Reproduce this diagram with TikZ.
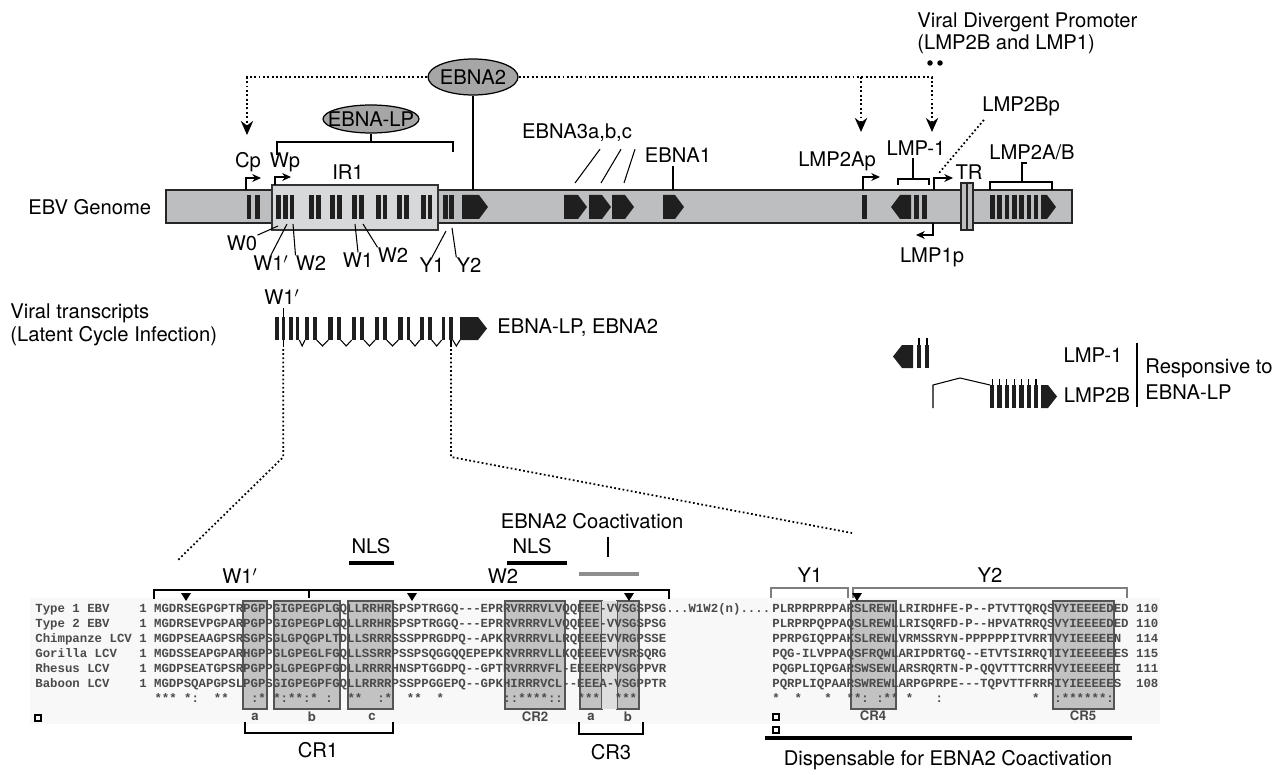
\documentclass[tikz,border=0pt]{standalone}
\usepackage{fontspec}
\setmainfont{TeX Gyre Heros}
\setmonofont{Liberation Mono}
\usetikzlibrary{positioning,arrows.meta,shapes.geometric}
\definecolor{genomegrey}{HTML}{BDBEC0}
\definecolor{irgrey}{HTML}{D7D8D9}
\definecolor{protgrey}{HTML}{A6A6A6}
\definecolor{seqgrey}{HTML}{4A4A4A}
\definecolor{boxgrey}{HTML}{C2C2C2}
\definecolor{boxedge}{HTML}{555555}
\definecolor{palegrey}{HTML}{DEDEDE}
\definecolor{scangrey}{HTML}{F8F8F8}
\definecolor{bracketgrey}{HTML}{7E7E7E}
\definecolor{coactgrey}{HTML}{8E8E8E}
\tikzset{
  lbl/.style={font=\fontsize{11.5}{13}\selectfont, inner sep=0pt},
  prot/.style={ellipse, draw=black, line width=0.7pt, fill=protgrey, inner sep=0pt},
  genome/.style={draw=black!85, line width=0.8pt, fill=genomegrey},
  irbox/.style={draw=black!80, line width=0.7pt, fill=irgrey},
  exon/.style={fill=black!88},
  link/.style={line width=0.6pt},
  prom/.style={line width=0.6pt, -{Stealth[length=5pt,width=4.5pt]}},
  act/.style={line width=1.2pt, dash pattern=on 1.1pt off 1.4pt, -{Stealth[length=8pt,width=7pt]}},
  zoomline/.style={line width=1pt, dash pattern=on 1pt off 1.4pt},
  seq/.style={font=\fontsize{7.04}{8}\selectfont\ttfamily\bfseries, text=seqgrey,
              inner sep=0pt, anchor=west, text height=4.6pt, text depth=1.2pt},
  crbox/.style={draw=boxedge, fill=boxgrey, line width=0.8pt},
  crlbl/.style={font=\fontsize{7.5}{8}\selectfont\bfseries, text=seqgrey, inner sep=0pt},
  wbrace/.style={line width=0.8pt},
  crbrace/.style={line width=1.4pt},
}
% exon arrows: from x=#1 to tip x=#2, between y=#3 and y=#4
\newcommand{\pentR}[4]{\fill[exon] (#1,#3) -- (#2-9,#3) -- (#2,{(#3+#4)/2}) -- (#2-9,#4) -- (#1,#4) -- cycle;}
\newcommand{\pentL}[4]{\fill[exon] (#1,{(#3+#4)/2}) -- (#1+9,#3) -- (#2,#3) -- (#2,#4) -- (#1+9,#4) -- cycle;}
\newcommand{\downtri}[2]{\fill (#1-5,#2) -- (#1+5,#2) -- (#1,#2+8) -- cycle;}

\begin{document}
\begin{tikzpicture}[x=0.2mm, y=-0.2mm]
  \useasboundingbox (0,0) rectangle (1288,775);

  % ---- genome map ----
  \node[lbl, anchor=west] (genome) at (28,207) {EBV Genome};
  \draw[genome] (166,190) rectangle (1072,223);
  \draw[irbox] (272,185) rectangle (438,230);
  \foreach \x in {246.5,255,276,283,289.5,309,316,330,337,352,359,376,382.5,397,404,421,427.5,443,449}
    {\fill[exon] (\x,195) rectangle ++(4.5,24);}
  \pentR{462}{488}{195}{219}
  \foreach \a/\b in {564/587,589/611,612/634,663/684}
    {\pentR{\a}{\b}{195}{219}}
  \fill[exon] (862,195) rectangle (867,219);
  \pentL{891}{911}{195}{219}
  \foreach \x in {914,922}
    {\fill[exon] (\x,195) rectangle ++(5,24);}
  \draw[genome, line width=0.6pt] (961,183) rectangle (967,230);
  \draw[genome, line width=0.6pt] (967,183) rectangle (973,230);
  \foreach \k in {0,...,6}
    {\fill[exon] ({990+7.3*\k},195) rectangle ++(4.6,24);}
  \pentR{1041}{1056}{195}{219}

  % promoters
  \draw[prom] (246,190) |- (261,178);
  \draw[prom] (275,185) |- (291,177);
  \draw[prom] (863,190) |- (880,177);
  \draw[prom] (934,190) |- (953,178);
  \draw[prom] (933,223) |- (916,235);

  \node[lbl] (cp) at (248,162) {Cp};
  \node[lbl] (wp) at (285,162) {Wp};
  \node[lbl] (ir1) at (348,172) {IR1};
  \node[lbl] (w0) at (242,243) {W0};
  \node[lbl] (w1p) at (271,263) {W1$'$};
  \node[lbl] (w2a) at (311,263) {W2};
  \node[lbl] (w1) at (358,260) {W1};
  \node[lbl] (w2b) at (393,255) {W2};
  \node[lbl] (y1) at (432,265) {Y1};
  \node[lbl] (y2) at (469,265) {Y2};
  \draw[link] (w0.north east) -- (278,226);
  \draw[link] (w1p.north) -- (287,224);
  \draw[link] (w2a.north west) -- (293,224);
  \draw[link] (w1.north) -- (355,224);
  \draw[link] (w2b.north west) -- (363,224);
  \draw[link] (y1.north) -- (446,231);
  \draw[link] (y2.north west) -- (452,228);

  \node[lbl] (ebna3) at (577,133) {EBNA3a,b,c};
  \coordinate (e3a) at (575,183);
  \coordinate (e3b) at (601,183);
  \coordinate (e3c) at (624,183);
  \draw[link] ([shift={(23,7)}]ebna3.south) -- (e3a);
  \draw[link] ([shift={(44,7)}]ebna3.south) -- (e3b);
  \draw[link] ([shift={(58,7)}]ebna3.south) -- (e3c);
  \node[lbl] (ebna1) at (678,155) {EBNA1};
  \draw[link] (673,190) -- (673,166);
  \node[lbl] (lmp2ap) at (837,161) {LMP2Ap};
  \node[lbl] (lmp1) at (916,148) {LMP-1};
  \draw[link] (898,185) -- (898,179) -- (929,179) -- (929,185);
  \draw[link] (913,179) -- (913,158);
  \node[lbl] (lmp2bp) at (1021,106) {LMP2Bp};
  \coordinate (lmp2bptip) at (939,173);
  \draw[zoomline] ([shift={(2,4)}]lmp2bp.south west) -- (lmp2bptip);
  \node[lbl] (tr) at (969,172) {TR};
  \node[lbl] (lmp2ab) at (1032,152) {LMP2A/B};
  \draw[link] (990,190) -- (990,182) -- (1052,182) -- (1052,190);
  \draw[link] (1022,182) -- (1022,163) -- (1027,163);
  \node[lbl] (lmp1p) at (932,257) {LMP1p};

  % ---- transactivators ----
  \node[prot, minimum width=18mm, minimum height=7.2mm] (ebna2) at (473,77) {};
  \node[lbl] (ebna2txt) at (ebna2) {EBNA2};
  \node[prot, minimum width=19.2mm, minimum height=5.6mm] (ebnalp) at (371,119) {};
  \node[lbl] (ebnalptxt) at (ebnalp) {EBNA-LP};
  \coordinate (lpbr) at (368,142);
  \draw[link] (277,155) -- (277,142) -- (453,142) -- (453,152);
  \draw[link] (ebnalp.south) -- (ebnalp.south |- lpbr);
  \draw[link] (ebna2.south) -- (ebna2.south |- 0,190);

  \coordinate (cpin) at (247,135);
  \coordinate (fork) at (861,77);
  \coordinate (lp2ain) at (861,132);
  \coordinate (lmp1in) at (932,132);
  \draw[act] (ebna2.west) -| (cpin);
  \draw[act] (ebna2.east) -| (lmp1in);
  \draw[act] (fork) -- (lp2ain);

  \node[lbl, anchor=west] (vdp) at (917,22) {Viral Divergent Promoter};
  \node[lbl, anchor=west] (vdp2) at (917,44) {(LMP2B and LMP1)};
  \fill (930,63) circle[radius=0.55mm] (940,63) circle[radius=0.55mm];

  % ---- transcripts ----
  \node[lbl, anchor=west] (vt) at (10,313) {Viral transcripts};
  \node[lbl, anchor=west] (lci) at (10,336) {(Latent Cycle Infection)};
  \foreach \x/\w in {275/4.3,281.7/3.3,289.3/3.4,296/3.3,305/4.3,313.3/3.4,328.3/4.3,337.3/3.4,351.7/4.3,360/4,375/4.3,383.3/3.4,398.3/4.3,406.7/3.3,420/4,428.3/3.4,441.7/3.6,449.3/3.4}
    {\fill[exon] (\x,317) rectangle ++(\w,23);}
  \foreach \a/\b in {299.3/305,316.7/328.3,340.7/351.7,364/375,386.7/398.3,410/420,431.7/441.7,452.7/460}
    {\draw[link] (\a,340) -- ({(\a+\b)/2},346) -- (\b,340);}
  \pentR{460}{487}{317}{340}
  \draw[link] (283.3,317) -- (283.3,308);
  \node[lbl] (w1t) at (282,297) {W1$'$};
  \node[lbl, anchor=west] (lpe2) at (497,328) {EBNA-LP, EBNA2};

  \coordinate (zl0) at (283.3,340);
  \coordinate (zl1) at (178,560);
  \coordinate (zr0) at (451,340);
  \coordinate (zr1) at (852,533);
  \draw[link] (zl0) -- ++(0,7);
  \draw[link] (zr0) -- ++(0,7);
  \draw[zoomline] (zl0) ++(0,9) -- ++(0,108) -- (zl1);
  \draw[zoomline] (zr0) ++(0,9) -- ++(0,108) -- (zr1);

  % ---- LMP-1 / LMP2B ----
  \pentL{893}{913}{345}{368}
  \foreach \x in {917,925} {
    \fill[exon] (\x,345) rectangle ++(4,23);
    \draw[link] (\x+2,345) -- ++(0,-7);
  }
  \draw[link] (933,408) -- (933,385) -- (960,378) -- (990,385);
  \foreach \k in {0,...,6} {
    \fill[exon] ({990+7.3*\k},385) rectangle ++(4.4,23);
    \draw[link] ({992.2+7.3*\k},385) -- ++(0,-6);
  }
  \pentR{1041}{1057}{385}{408}
  \node[lbl] (lmp1b) at (1093,355) {LMP-1};
  \node[lbl] (lmp2b) at (1097,395) {LMP2B};
  \draw[link] (1137,343) -- (1137,407);
  \node[lbl, anchor=west] (resp) at (1145,368) {Responsive to};
  \node[lbl, anchor=west] (resp2) at (1145,392) {EBNA-LP};

  % ---- alignment ----
  \fill[scangrey] (30,598) rectangle (772,724);
  \fill[scangrey] (762,598) rectangle (1160,724);
  \node[lbl] (coact) at (592,521) {EBNA2 Coactivation};
  \draw[link, line width=0.8pt] (608,537) -- (608,557);
  \node[lbl] (nls1) at (371,546) {NLS};
  \draw[line width=2.4pt] (349,563) -- (394,563);
  \node[lbl] (nls2) at (532,546) {NLS};
  \draw[line width=2.4pt] (507,563) -- (567,563);
  \draw[line width=2.4pt, coactgrey] (579,574) -- (639,574);
  \node[lbl] (w1h) at (240,576) {W1$'$};
  \node[lbl] (w2h) at (503,576) {W2};
  \draw[wbrace] (154,599) -- (154,590) -- (669,590) -- (669,599);
  \draw[wbrace] (309,590) -- (309,598);
  \node[lbl] (y1h) at (810,575) {Y1};
  \node[lbl] (y2h) at (990,575) {Y2};
  \draw[wbrace, bracketgrey] (771,598) -- (771,588) -- (848,588) -- (848,598);
  \draw[wbrace, bracketgrey] (853,598) -- (853,588) -- (1127,588) -- (1127,598);

  \foreach \a/\b in {243/267,274/340,348/393,505/565,580/602,617/639,851/896,1053/1114}
    {\draw[crbox] (\a,601) rectangle (\b,709);}
  \fill[palegrey] (602.4,601.4) rectangle (616.6,708.6);
  \foreach \x in {186,412,629,857}
    {\downtri{\x}{593}}

  \node[seq] (t1) at (35,610) {Type~1~EBV~~~~1~MGDRSEGPGPTRPGPPGIGPEGPLGQLLRRHRSPSPTRGGQ---EPRRVRRRVLVQQEEE-VVSGSPSG...W1W2(n)....};
  \node[seq] (t2) at (35,625) {Type~2~EBV~~~~1~MGDRSEVPGPARPGPPGIGPEGPLGQLLRRHRSPSPTRGGQ---EPRRVRRRVLVQQEEE-VVSGSPSG};
  \node[seq] (ch) at (35,640) {Chimpanze~LCV~1~MGDPSEAAGPSRSGPSGLGPQGPLTDLLSRRRSSSPPRGDPQ--APKRVRRRVLLRQEEEEVVRGPSSE};
  \node[seq] (go) at (35,655) {Gorilla~LCV~~~1~MGDSSEAPGPARHGPPGLGPEGLFGQLLSSRRPSSPSQGGQQEPEPKRVRRRVLLKQEEEEVVSRSQRG};
  \node[seq] (rh) at (35,670) {Rhesus~LCV~~~~1~MGDPSEATGPSRPGPPGLGPEGPFGDLLRRRRHNSPTGGDPQ--GPTRVRRRVFL-EEEERPVSGPPVR};
  \node[seq] (ba) at (35,685) {Baboon~LCV~~~~1~MGDPSQAPGPSLPGPSGIGPEGPFGQLLRRRRPSSPPGGEPQ--GPKHIRRRVCL--EEEA-VSGPPTR};
  \node[seq] (cons) at (154.2,700) {***~*:~~**~~~:*~*:**:*~:~~**~~:*~~**~~*~~~~~~~~::****::~~***~~***};

  \node[seq] (t1r) at (772,610) {PLRPRPRPPARSLREWLLRIRDHFE-P--PTVTTQRQSVYIEEEEDED~110};
  \node[seq] (t2r) at (772,625) {PLRPRPQPPAQSLREWLLRISQRFD-P--HPVATRRQSVYIEEEEDED~110};
  \node[seq] (chr) at (772,640) {PPRPGIQPPAKSLREWLVRMSSRYN-PPPPPPITVRRTVYIEEEEEN~~114};
  \node[seq] (gor) at (772,655) {PQG-ILVPPAQSFRQWLARIPDRTGQ--ETVTSIRRQTIYIEEEEEES~115};
  \node[seq] (rhr) at (772,670) {PQGPLIQPGARSWSEWLARSRQRTN-P-QQVTTTCRRRVYIEEEEEI~~111};
  \node[seq] (bar) at (772,685) {PQRPLIQPAARSWREWLARPGPRPE---TQPVTTFRRRIYIEEEEES~~108};
  \node[seq] (consr) at (772,700) {*~~*~~~*~~**:~:**~*~~~:~~~~~~~~~~~~*~~:******:};

  \node[crlbl] (cra) at (255,717) {a};
  \node[crlbl] (crb) at (312,717) {b};
  \node[crlbl] (crc) at (372,717) {c};
  \node[crlbl] (cr2) at (535,717) {CR2};
  \node[crlbl] (cr3a) at (591,717) {a};
  \node[crlbl] (cr3b) at (628,717) {b};
  \node[crlbl] (cr4) at (873,716) {CR4};
  \node[crlbl] (cr5) at (1083,716) {CR5};

  \draw[crbrace] (245,722) -- (245,733) -- (393,733) -- (393,722);
  \node[lbl] (cr1) at (318,750) {CR1};
  \draw[crbrace] (579,722) -- (579,734) -- (643,734) -- (643,722);
  \node[lbl] (cr3) at (611,752) {CR3};

  \draw[line width=0.6pt] (35,715) rectangle (41,721);
  \draw[line width=0.6pt] (773,714) rectangle (779,720);
  \draw[line width=0.6pt] (773,727) rectangle (779,733);
  \draw[line width=2.8pt] (765,738) -- (1132,738);
  \node[lbl] (disp) at (948,760) {Dispensable for EBNA2 Coactivation};
\end{tikzpicture}
\end{document}
